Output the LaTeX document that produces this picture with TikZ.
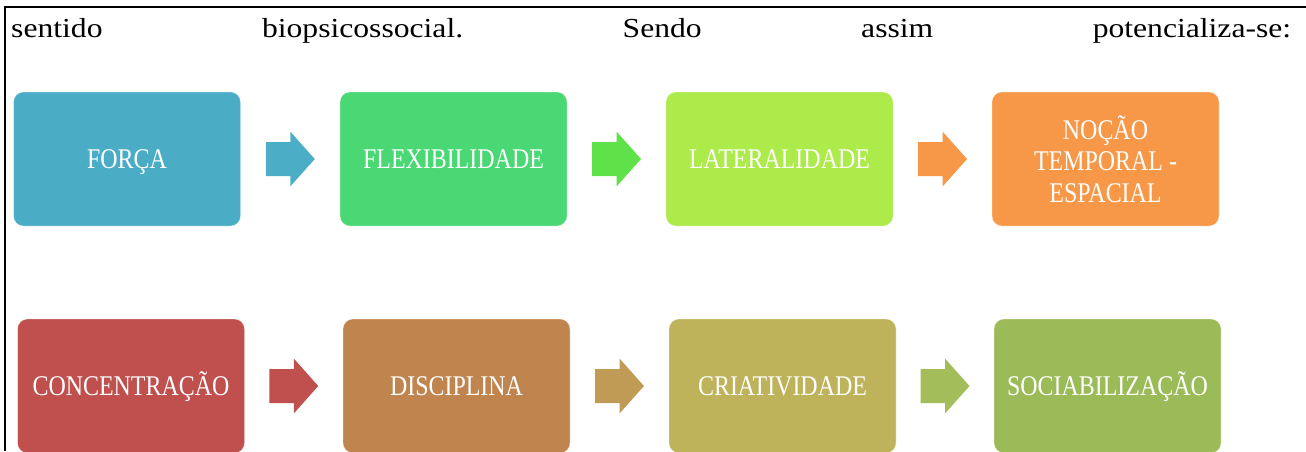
\documentclass[tikz,border=0pt]{standalone}
\usepackage{fontspec}
\setmainfont{Liberation Serif}
\newfontfamily\topfont[FakeStretch=1.15]{Liberation Serif}
\newfontfamily\boxfont[FakeStretch=0.84]{Liberation Serif}
\definecolor{cA}{HTML}{4BACC6}
\definecolor{cB}{HTML}{4AD874}
\definecolor{cC}{HTML}{ADEB4A}
\definecolor{cD}{HTML}{F79848}
\definecolor{cE}{HTML}{C0504D}
\definecolor{cF}{HTML}{C0844F}
\definecolor{cG}{HTML}{BEB35A}
\definecolor{cH}{HTML}{9BBB59}
\definecolor{aA}{HTML}{4BADC6}
\definecolor{aB}{HTML}{5FE249}
\definecolor{aC}{HTML}{F79848}
\definecolor{aE}{HTML}{C0504D}
\definecolor{aF}{HTML}{C09B55}
\definecolor{aG}{HTML}{A3BD5A}
\tikzset{
  stagebox/.style={rounded corners=10pt, minimum width=227pt, minimum height=134pt,
    inner sep=0pt, text=white, align=center, draw=white, draw opacity=0.35, line width=0.8pt,
    font=\boxfont\fontsize{28.5}{31.5}\selectfont},
  oneline/.style={text height=19pt, text depth=0pt},
  frameline/.style={line width=2pt, black}
}
\newcommand{\blkarrow}[2]{%
  \fill[#1, shift={(#2)}] (-24.5,-17) -- (0,-17) -- (0,-27.5) -- (24.5,0) -- (0,27.5) -- (0,17) -- (-24.5,17) -- cycle;}
\begin{document}
\begin{tikzpicture}[x=1pt, y=-1pt]
\useasboundingbox (0,0) rectangle (1306,451);
\clip (0,0) rectangle (1306,451);
% frame lines
\coordinate (tl) at (4,7);
\coordinate (tr) at (1306,7);
\coordinate (lt) at (5,6);
\coordinate (lb) at (5,451);
\draw[frameline] (tl) -- (tr);
\draw[frameline] (lt) -- (lb);
% top text
\node[anchor=base west, inner sep=0pt, font=\topfont\fontsize{27.5}{32}\selectfont] (txt) at (11,37)
  {\hbox to 1280pt{sentido\hfill biopsicossocial.\hfill Sendo\hfill assim\hfill potencializa-se:}};
% top row
\node[stagebox, oneline, fill=cA] (b1) at (127,159) {FORÇA};
\node[stagebox, oneline, fill=cB] (b2) at (453.5,159) {FLEXIBILIDADE};
\node[stagebox, oneline, fill=cC] (b3) at (779.5,159) {LATERALIDADE};
\node[stagebox, fill=cD] (b4) at (1105.5,159) {NOÇÃO\\TEMPORAL -\\ESPACIAL};
% bottom row
\node[stagebox, oneline, fill=cE] (b5) at (131,386) {CONCENTRAÇÃO};
\node[stagebox, oneline, fill=cF] (b6) at (456.5,386) {DISCIPLINA};
\node[stagebox, oneline, fill=cG] (b7) at (782.5,386) {CRIATIVIDADE};
\node[stagebox, oneline, fill=cH] (b8) at (1107.5,386) {SOCIABILIZAÇÃO};
% arrows
\path (b1.east) -- (b2.west) coordinate[midway] (m1);
\path (b2.east) -- (b3.west) coordinate[midway] (m2);
\path (b3.east) -- (b4.west) coordinate[midway] (m3);
\path (b5.east) -- (b6.west) coordinate[midway] (m5);
\path (b6.east) -- (b7.west) coordinate[midway] (m6);
\path (b7.east) -- (b8.west) coordinate[midway] (m7);
\blkarrow{aA}{m1}
\blkarrow{aB}{m2}
\blkarrow{aC}{m3}
\blkarrow{aE}{m5}
\blkarrow{aF}{m6}
\blkarrow{aG}{m7}
\end{tikzpicture}
\end{document}
